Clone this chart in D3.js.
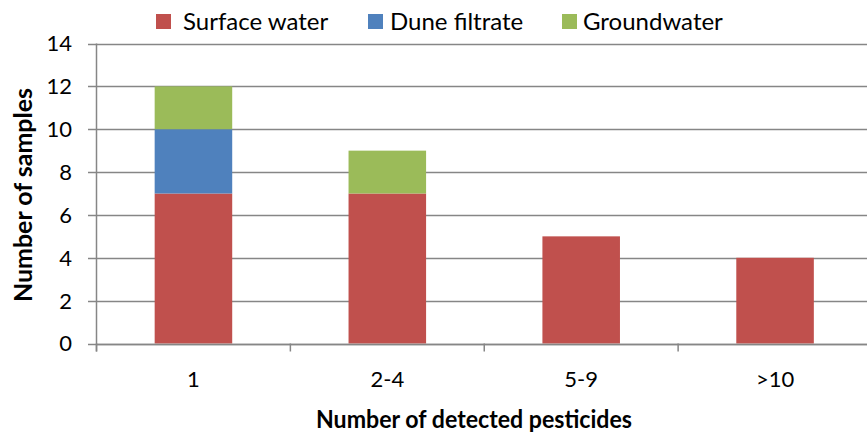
<!DOCTYPE html>
<html><head><meta charset="utf-8">
<script src="https://cdn.jsdelivr.net/npm/d3@7"></script>
<style>body{margin:0;background:#fff}svg{display:block;font-family:Lato,"Open Sans",sans-serif}</style>
</head><body><svg id="c" width="867" height="434"></svg>
<script>
const categories = ["1","2-4","5-9",">10"];
const seriesNames = ["Surface water","Dune filtrate","Groundwater"];
const surfaceWater = [7,7,5,4];
const duneFiltrate = [3,0,0,0];
const groundwater = [2,2,0,0];
const yTicks = [0,2,4,6,8,10,12,14];
const colors = ["#C0504D","#4F81BD","#9BBB59"];

const svg = d3.select("#c");
const m = {l:96.5, r:872, t:43.5, b:343.5};
const x = d3.scaleBand().domain(categories).range([m.l, m.r]).paddingInner(0.6).paddingOuter(0.3);
const xb = d3.scaleBand().domain(categories).range([m.l, m.r]);
const y = d3.scaleLinear().domain([0,14]).range([m.b, m.t]);

const rows = categories.map((c,i)=>({cat:c, "Surface water":surfaceWater[i], "Dune filtrate":duneFiltrate[i], "Groundwater":groundwater[i]}));
const stack = d3.stack().keys(seriesNames)(rows);

// gridlines
svg.append("g").selectAll("line").data(yTicks).join("line")
  .attr("x1", 88).attr("x2", 867)
  .attr("y1", d=>Math.round(y(d))+0.5).attr("y2", d=>Math.round(y(d))+0.5)
  .attr("stroke","#868686").attr("stroke-width",1.5);

// bars
stack.forEach((s,k)=>{
  svg.append("g").attr("fill",colors[k]).selectAll("rect").data(s.filter(d=>d[1]>d[0])).join("rect")
    .attr("x", d=>x(d.data.cat)).attr("width", x.bandwidth())
    .attr("y", d=>y(d[1])).attr("height", d=>y(d[0])-y(d[1]));
});

// y axis line
svg.append("line").attr("x1",m.l).attr("x2",m.l).attr("y1",m.t).attr("y2",m.b+8)
  .attr("stroke","#868686").attr("stroke-width",1.5);
// x axis line
svg.append("line").attr("x1",m.l).attr("x2",867).attr("y1",Math.round(y(0))+0.5).attr("y2",Math.round(y(0))+0.5)
  .attr("stroke","#868686").attr("stroke-width",1.5);
// x ticks at band boundaries
svg.append("g").selectAll("line").data(categories).join("line")
  .attr("x1",d=>xb(d)).attr("x2",d=>xb(d)).attr("y1",m.b).attr("y2",m.b+8)
  .attr("stroke","#868686").attr("stroke-width",1.5);

// y tick labels
svg.append("g").selectAll("text").data(yTicks).join("text")
  .attr("x",72).attr("y",d=>y(d)).attr("dy","0.36em").attr("text-anchor","end")
  .attr("font-size",22).attr("fill","#000").text(d=>d);
// x tick labels
svg.append("g").selectAll("text").data(categories).join("text")
  .attr("x",d=>xb(d)+xb.bandwidth()/2).attr("y",387).attr("text-anchor","middle")
  .attr("font-size",22).attr("fill","#000").text(d=>d);

// axis titles
svg.append("text").attr("x",474).attr("y",428).attr("text-anchor","middle")
  .attr("font-size",25).attr("font-weight","bold")
  .attr("textLength",316).attr("lengthAdjust","spacingAndGlyphs")
  .text("Number of detected pesticides");
svg.append("text").attr("transform","translate(32,195) rotate(-90)").attr("text-anchor","middle")
  .attr("font-size",25).attr("font-weight","bold")
  .attr("textLength",214).attr("lengthAdjust","spacingAndGlyphs")
  .text("Number of samples");

// legend
const legX = [156,368,562];
const legTX = [183,390,583];
const lg = svg.append("g").selectAll("g").data(seriesNames).join("g");
lg.append("rect").attr("x",(d,i)=>legX[i]).attr("y",14).attr("width",15).attr("height",15).attr("fill",(d,i)=>colors[i]);
lg.append("text").attr("x",(d,i)=>legTX[i]).attr("y",30).attr("font-size",24).text(d=>d);
</script></body></html>
